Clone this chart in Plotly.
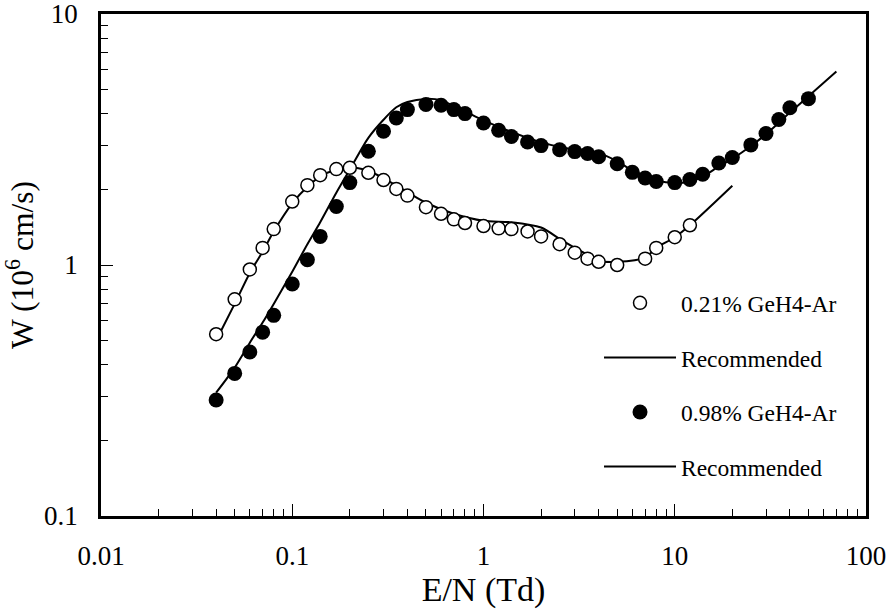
import plotly.graph_objects as go

# 0.21% GeH4-Ar measured
open_x = [0.04, 0.05, 0.06, 0.07, 0.08, 0.1, 0.12, 0.14, 0.17, 0.2, 0.25, 0.3, 0.35, 0.4, 0.5, 0.6, 0.7, 0.8,
          1.0, 1.2, 1.4, 1.7, 2.0, 2.5, 3.0, 3.5, 4.0, 5.0, 7.0, 8.0, 10, 12]
open_y = [0.53, 0.73, 0.96, 1.17, 1.39, 1.79, 2.08, 2.28, 2.41, 2.44, 2.33, 2.18, 2.01, 1.89, 1.70, 1.60, 1.52, 1.47,
          1.43, 1.40, 1.39, 1.36, 1.30, 1.21, 1.12, 1.06, 1.03, 1.00, 1.06, 1.17, 1.29, 1.44]

# Recommended curve for 0.21%
rec1_x = [0.04, 0.05, 0.06, 0.07, 0.08, 0.1, 0.12, 0.14, 0.17, 0.2, 0.25, 0.3, 0.35, 0.4, 0.5, 0.7, 1.0, 1.4,
          2.0, 2.5, 3.0, 3.5, 4.0, 5.0, 7.0, 8.0, 10, 12, 20]
rec1_y = [0.50, 0.70, 0.93, 1.13, 1.36, 1.76, 2.05, 2.25, 2.40, 2.45, 2.37, 2.22, 2.07, 1.95, 1.77, 1.60, 1.50, 1.48,
          1.41, 1.27, 1.17, 1.10, 1.04, 1.03, 1.07, 1.17, 1.29, 1.44, 2.07]

# 0.98% GeH4-Ar measured
filled_x = [0.04, 0.05, 0.06, 0.07, 0.08, 0.1, 0.12, 0.14, 0.17, 0.2, 0.25, 0.3, 0.35, 0.4, 0.5, 0.6, 0.7, 0.8,
            1.0, 1.2, 1.4, 1.7, 2.0, 2.5, 3.0, 3.5, 4.0, 5.0, 6.0, 7.0, 8.0, 10, 12, 14, 17, 20, 25, 30, 35, 40, 50]
filled_y = [0.29, 0.37, 0.45, 0.54, 0.63, 0.84, 1.05, 1.30, 1.71, 2.13, 2.84, 3.41, 3.85, 4.16, 4.36, 4.33, 4.16, 4.01,
            3.68, 3.44, 3.25, 3.09, 2.99, 2.88, 2.83, 2.78, 2.70, 2.53, 2.34, 2.22, 2.15, 2.13, 2.19, 2.30, 2.55, 2.68,
            3.01, 3.34, 3.80, 4.23, 4.60]

# Recommended curve for 0.98%
rec2_x = [0.04, 0.05, 0.06, 0.07, 0.08, 0.1, 0.12, 0.14, 0.17, 0.2, 0.25, 0.3, 0.35, 0.4, 0.5, 0.6, 0.7, 0.8,
          1.0, 1.7, 2.5, 4.0, 5.0, 6.0, 7.0, 8.0, 10, 12, 14, 17, 20, 25, 30, 40, 50, 70]
rec2_y = [0.31, 0.39, 0.49, 0.59, 0.70, 0.94, 1.21, 1.48, 1.94, 2.40, 3.21, 3.79, 4.25, 4.46, 4.59, 4.53, 4.29, 4.10,
          3.77, 3.21, 2.95, 2.79, 2.59, 2.38, 2.25, 2.17, 2.12, 2.15, 2.25, 2.47, 2.65, 2.98, 3.32, 4.05, 4.70, 5.90]

x_ticks = [0.01, 0.1, 1, 10, 100]
x_ticklabels = ["0.01", "0.1", "1", "10", "100"]
y_ticks = [0.1, 1, 10]
y_ticklabels = ["0.1", "1", "10"]

FONT = "Liberation Serif"

def minor_vals(lo_exp, hi_exp):
    vals = []
    for e in range(lo_exp, hi_exp):
        for m in range(2, 10):
            vals.append(m * 10 ** e)
    return vals

fig = go.Figure()
fig.add_trace(go.Scatter(x=rec1_x, y=rec1_y, mode="lines", name="Recommended",
                         line=dict(color="black", width=2, shape="spline", smoothing=0.8),
                         legendrank=2, legendgroup="b"))
fig.add_trace(go.Scatter(x=rec2_x, y=rec2_y, mode="lines", name="Recommended",
                         line=dict(color="black", width=2, shape="spline", smoothing=0.8),
                         legendrank=4, legendgroup="d"))
fig.add_trace(go.Scatter(x=open_x, y=open_y, mode="markers", name="0.21% GeH4-Ar",
                         marker=dict(symbol="circle", size=13, color="white",
                                     line=dict(color="black", width=1.5)),
                         legendrank=1, legendgroup="a"))
fig.add_trace(go.Scatter(x=filled_x, y=filled_y, mode="markers", name="0.98% GeH4-Ar",
                         marker=dict(symbol="circle", size=15, color="black",
                                     line=dict(color="black", width=0)),
                         legendrank=3, legendgroup="c"))

fig.update_layout(
    width=893, height=614,
    margin=dict(l=101, r=27, t=14, b=98, autoexpand=False),
    paper_bgcolor="white", plot_bgcolor="white",
    font=dict(family=FONT, color="black", size=23),
    legend=dict(x=0.651, y=0.468, xanchor="left", yanchor="top",
                bgcolor="rgba(0,0,0,0)", traceorder="grouped", tracegroupgap=21,
                itemwidth=72, font=dict(size=23.5, family=FONT)),
    showlegend=True,
)
fig.update_xaxes(type="log", range=[-2, 2], showgrid=False, zeroline=False, automargin=False,
                 showline=True, linecolor="black", linewidth=2.5, mirror=True,
                 ticks="inside", ticklen=12, tickwidth=1, tickcolor="black",
                 tickvals=x_ticks, ticktext=x_ticklabels, tickfont=dict(size=27),
                 ticklabelstandoff=14, ticklabeloverflow="allow",
                 minor=dict(tickvals=minor_vals(-2, 2), ticks="inside", ticklen=7,
                            tickwidth=1, tickcolor="black", showgrid=False),
                 title=dict(text="E/N (Td)", font=dict(size=34), standoff=7))
fig.update_yaxes(type="log", range=[-1, 1], showgrid=False, zeroline=False, automargin=False,
                 showline=True, linecolor="black", linewidth=2.5, mirror=True,
                 ticks="inside", ticklen=12, tickwidth=1, tickcolor="black",
                 tickvals=y_ticks, ticktext=y_ticklabels, tickfont=dict(size=27),
                 ticklabelstandoff=15, ticklabeloverflow="allow",
                 minor=dict(tickvals=minor_vals(-1, 1), ticks="inside", ticklen=7,
                            tickwidth=1, tickcolor="black", showgrid=False),
                 title=dict(text="W (10<sup>6</sup> cm/s)", font=dict(size=31.5), standoff=2))

# remove the default 8px page margin so the 893x614 figure fills the window exactly
fig.write_html("out.html", config={"displayModeBar": False},
               post_script="document.body.style.margin='0';")
